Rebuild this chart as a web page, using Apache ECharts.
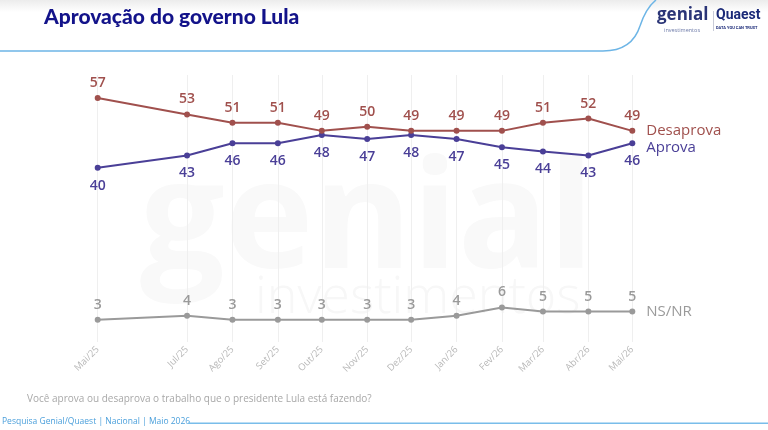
<!DOCTYPE html>
<html>
<head>
<meta charset="utf-8">
<script src="https://cdn.jsdelivr.net/npm/echarts@6/dist/echarts.min.js"></script>
<style>
html,body{margin:0;padding:0;background:#fff;}
#c{width:768px;height:430px;}
</style>
</head>
<body>
<div id="c"></div>
<script>
// ---- data ----
const dates = ['2025-05-01','2025-07-01','2025-08-01','2025-09-01','2025-10-01','2025-11-01','2025-12-01','2026-01-01','2026-02-01','2026-03-01','2026-04-01','2026-05-01'];
const tickLabels = ['Mai/25','Jul/25','Ago/25','Set/25','Out/25','Nov/25','Dez/25','Jan/26','Fev/26','Mar/26','Abr/26','Mai/26'];
const desaprova = [57,53,51,51,49,50,49,49,49,51,52,49];
const aprova = [40,43,46,46,48,47,48,47,45,44,43,46];
const nsnr = [3,4,3,3,3,3,3,4,6,5,5,5];
const seriesNames = ['Desaprova','Aprova','NS/NR'];

// day offset of each survey date from the first one (position on a value axis)
function dayNum(s){const p=s.split('-').map(Number);return Date.UTC(p[0],p[1]-1,p[2])/86400000;}
const xs = dates.map(d => dayNum(d) - dayNum(dates[0]));
const pairs = arr => arr.map((v,i)=>[xs[i],v]);

const FONT = '"Open Sans", "Noto Sans", sans-serif';
const C_DES = '#a0504d', C_APR = '#4a3f97', C_NS = '#9a9a9a';

const chart = echarts.init(document.getElementById('c'));

function lineSeries(name, data, color, labelPos, labelDist, endOffset){
  return {
    name, type:'line', data: pairs(data),
    symbol:'circle', symbolSize:6,
    lineStyle:{color, width:2},
    itemStyle:{color},
    label:{show:true, position:labelPos, distance:labelDist, color, fontFamily:FONT, fontSize:14, fontWeight:600,
      formatter: p => p.value[1]},
    endLabel:{show:true, formatter:name, color, fontFamily:FONT, fontSize:15, distance:14, offset:endOffset},
    emphasis:{disabled:true},
    z:5
  };
}

const BLUE = '#6db5e6';
const option = {
  backgroundColor:'#ffffff',
  animation:false,
  grid:{left:97.7, right:135.7, top:75, bottom:88},
  xAxis:{
    type:'value', min:xs[0], max:xs[xs.length-1],
    axisLine:{show:false}, axisTick:{show:false}, splitLine:{show:false},
    axisLabel:{
      customValues: xs,
      rotate:45, margin:6, color:'#b8b8b8', fontFamily:FONT, fontSize:9.5,
      formatter: v => { const i = xs.indexOf(v); return i>=0 ? tickLabels[i] : ''; },
      hideOverlap:false, showMinLabel:true, showMaxLabel:true
    }
  },
  yAxis:{type:'value', min:-2.4, max:62.6, show:false},
  series:[
    {
      name:'grid', type:'line', data:[], z:0, silent:true,
      markLine:{
        silent:true, symbol:'none', label:{show:false}, z:0,
        lineStyle:{color:'#efefef', width:1, type:'solid'},
        emphasis:{disabled:true},
        data: xs.map(x=>({xAxis:x}))
      }
    },
    lineSeries(seriesNames[2], nsnr, C_NS, 'top', 5, [0,0]),
    lineSeries(seriesNames[1], aprova, C_APR, 'bottom', 8, [0,5]),
    lineSeries(seriesNames[0], desaprova, C_DES, 'top', 5, [0,0])
  ],
  graphic:[
    {type:'rect', shape:{x:0,y:0,width:768,height:12}, style:{fill:new echarts.graphic.LinearGradient(0,0,0,1,[{offset:0,color:'#ececec'},{offset:1,color:'#ffffff'}])}, z:-10},
    {type:'text', x:140, y:150, z:-5, silent:true, style:{text:'genial', font:'bold 150px "Open Sans", sans-serif', fill:'#f9f9f9', verticalAlign:'top'}},
    {type:'text', x:255, y:272, z:-5, silent:true, style:{text:'investimentos', font:'300 52px "Open Sans", sans-serif', fill:'#f7f7f7', verticalAlign:'top'}},
    {type:'text', x:44, y:7, style:{text:'Aprovação do governo Lula', font:'900 21px Lato, "Open Sans", sans-serif', fill:'#13138a', verticalAlign:'top'}},
    {type:'line', shape:{x1:0,y1:51,x2:603,y2:51}, style:{stroke:BLUE, lineWidth:1.5}},
    {type:'bezierCurve', shape:{x1:603,y1:51,cpx1:632,cpy1:51,x2:640,y2:26}, style:{stroke:BLUE, lineWidth:1.5, fill:'none'}},
    {type:'bezierCurve', shape:{x1:640,y1:26,cpx1:646,cpy1:8,x2:656,y2:0}, style:{stroke:BLUE, lineWidth:1.5, fill:'none'}},
    {type:'text', x:657, y:7, style:{text:'genial', font:'bold 17px "Open Sans", sans-serif', fill:'#2b3577', verticalAlign:'top'}},
    {type:'text', x:664, y:27, style:{text:'investimentos', font:'5.5px "Open Sans", sans-serif', fill:'#6d7aa8', verticalAlign:'top'}},
    {type:'rect', shape:{x:713,y:11,width:1,height:20}, style:{fill:'#c8cbd8'}},
    {type:'text', x:716, y:8, style:{text:'Quaest', font:'bold 14px Roboto, sans-serif', fill:'#1b2a78', verticalAlign:'top'}},
    {type:'text', x:716, y:26, style:{text:'DATA YOU CAN TRUST', font:'bold 4px Roboto, sans-serif', fill:'#1b2a78', verticalAlign:'top'}},
    {type:'text', x:27, y:394, style:{text:'Você aprova ou desaprova o trabalho que o presidente Lula está fazendo?', font:'10px "Open Sans", sans-serif', fill:'#a8a8a8', verticalAlign:'top'}},
    {type:'text', x:2, y:417, style:{text:'Pesquisa Genial/Quaest | Nacional | Maio 2026', font:'8.5px "Open Sans", sans-serif', fill:'#4a9fdb', verticalAlign:'top'}},
    {type:'rect', shape:{x:188,y:422.5,width:580,height:1.5}, style:{fill:'#79bdea'}}
  ]
};
chart.setOption(option);
</script>
</body>
</html>
